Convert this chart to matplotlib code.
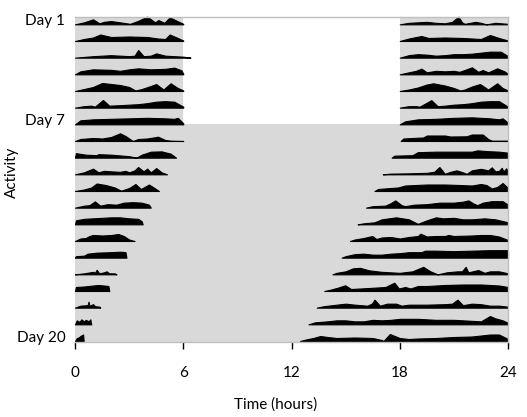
import numpy as np
import matplotlib.pyplot as plt

plt.rcParams['font.family'] = ['Lato', 'DejaVu Sans']

hour_ticks = [0, 6, 12, 18, 24]
label_days = [1, 7, 20]
day_labels = ['Day 1', 'Day 7', 'Day 20']

# activity traces: (hour, activity) pairs, one list per day
morning = [
    [(0, 0), (0.5, 2), (1.0, 5), (1.35, 1), (1.6, 2.5), (2.0, 3.3), (2.5, 2), (3.05, 0.5), (3.5, 3.5), (4.0, 7.7), (4.44, 2), (4.62, 4.3), (4.95, 1.5), (5.25, 7), (5.7, 3), (6.0, 0.5)],
    [(0, 0), (0.5, 2), (1.0, 3.5), (1.4, 6.5), (2.0, 4), (3.0, 4.5), (4.0, 4), (4.6, 2.5), (5.0, 2), (5.25, 6.5), (5.7, 3), (6.0, 0.5)],
    [(0, 0), (1, 1.5), (2, 2.5), (3, 1.5), (3.3, 2), (3.5, 7.7), (3.8, 1.5), (4.2, 2), (4.5, 4.3), (5, 2), (5.5, 1.5), (6, 1), (6.4, 0)],
    [(0, 0), (0.3, 3), (1, 5), (2, 4.5), (2.5, 3.5), (3, 5), (3.5, 6), (4.2, 5), (5, 5.5), (5.5, 6.7), (5.9, 4), (6, 0.5)],
    [(0, 0), (0.5, 2), (1, 4), (1.5, 8), (2, 7), (2.5, 6), (3, 4), (3.35, 0.5), (3.7, 2), (4.2, 5), (4.5, 7), (4.9, 1.5), (5.3, 7.7), (5.7, 3), (6, 0.5)],
    [(0, 0), (0.5, 1.5), (0.9, 2), (1.1, 1), (1.55, 7.7), (1.9, 2), (2.5, 2.5), (3, 3), (3.5, 3.5), (4, 4.5), (4.5, 6), (5, 6.5), (5.5, 6), (6, 1)],
    [(0, 0), (0.3, 4), (1, 5), (2, 5.5), (3, 6), (4, 6.5), (5, 6), (5.5, 5.5), (5.7, 6.5), (6, 1)],
    [(0, 0), (0.3, 2), (1, 3), (1.5, 2.5), (2, 4), (2.5, 7.7), (2.8, 5), (3.2, 0), (3.5, 2), (4, 2.5), (4.6, 4.3), (5, 1), (5.3, 0.3), (6, 0)],
    [(0, 0), (0.05, 4.5), (0.6, 3), (1.2, 2.5), (1.3, 3.5), (2.0, 3), (3.0, 1.5), (3.4, 0), (3.7, 3), (4.2, 6), (4.8, 6.3), (5.3, 4), (5.6, 0)],
    [(0, 0), (0.5, 2), (1, 5.7), (1.3, 2), (1.6, 3.5), (2, 3), (2.5, 2.5), (2.8, 3.5), (3, 2), (3.3, 4), (3.5, 7.3), (3.8, 3), (4.0, 5.7), (4.2, 2), (4.5, 6.3), (4.8, 2), (5.1, 0)],
    [(0, 0), (0.5, 1.5), (0.9, 3.5), (1.2, 7.5), (1.7, 6), (2.2, 3.5), (2.55, 0.3), (3.0, 3), (3.35, 7), (3.65, 2), (4.1, 6.5), (4.4, 3), (4.65, 0)],
    [(0, 0), (0.5, 2), (0.8, 2.5), (1.1, 6.3), (1.4, 2), (1.8, 3.5), (2.3, 3), (2.7, 5), (3.2, 5.5), (3.7, 5), (4.1, 3), (4.2, 0)],
    [(0, 0), (0.05, 4), (0.5, 5.5), (1, 6), (2, 7), (2.5, 7), (3, 6), (3.5, 5.5), (3.7, 3), (3.75, 0)],
    [(0, 0), (0.3, 2.5), (0.6, 3), (0.8, 5), (1, 6), (1.5, 5.5), (2, 6), (2.4, 7), (2.7, 5), (3, 1.5), (3.3, 0)],
    [(0, 0), (0.05, 1.5), (0.5, 2), (0.7, 4), (1.2, 5), (2, 5.5), (2.5, 6), (2.8, 5.5), (2.85, 0)],
    [(0, 0), (0.5, 1), (1, 2.5), (1.1, 1.5), (1.2, 4.5), (1.35, 1), (1.6, 2), (1.75, 3), (1.9, 1), (2.2, 1), (2.3, 0)],
    [(0, 0), (0.05, 4), (0.5, 4.5), (1, 5.5), (1.3, 6), (1.6, 5.5), (1.85, 5), (1.9, 0)],
    [(0, 0), (0.3, 2), (0.7, 2.5), (0.75, 6), (0.8, 2), (1.0, 3.5), (1.1, 1.5), (1.35, 1), (1.4, 0)],
    [(0, 0), (0.1, 4), (0.25, 2.5), (0.35, 5), (0.5, 3), (0.6, 4.5), (0.75, 3), (0.85, 5), (0.9, 0)],
    [(0, 0), (0.1, 3), (0.2, 3.5), (0.3, 5), (0.45, 6.5), (0.48, 0)],
]

evening = [
    [(18, 0), (18.5, 1.5), (19, 2), (19.5, 2.5), (20, 1.5), (20.5, 1), (20.9, 2.5), (21.25, 7.7), (21.45, 2), (21.6, 0.5), (22.2, 2.5), (22.5, 1.5), (22.8, 0), (23.3, 1.5), (24, 0.5)],
    [(18, 0), (18.5, 2.5), (19.2, 5), (19.6, 3), (20.5, 3.5), (21.5, 3), (22, 2.5), (22.5, 2), (23, 6), (23.5, 3), (24, 0.5)],
    [(18, 0), (18.5, 2.5), (19, 3.5), (19.5, 3), (20, 2), (20.5, 2.5), (21, 3.5), (21.5, 3.5), (22, 4), (22.5, 5), (23, 6), (23.6, 6), (24, 1.5)],
    [(18, 0), (18.5, 2), (18.9, 3.5), (19.2, 5.7), (19.5, 2), (20, 3.5), (20.5, 3), (21, 3.5), (21.3, 2.5), (21.7, 5), (22, 7), (22.35, 2.5), (22.6, 4.3), (22.9, 2), (23.4, 6), (23.8, 3), (24, 0.5)],
    [(18, 0), (18.5, 1.5), (19, 3.5), (19.5, 6.5), (19.85, 7.7), (20.5, 5.5), (21, 3), (21.35, 0.5), (21.6, 1.5), (22, 4.5), (22.45, 7), (22.9, 1.5), (23.4, 7.7), (23.7, 3), (24, 0.5)],
    [(18, 0), (18.5, 1.5), (18.9, 1.5), (19.1, 1), (19.75, 7.5), (20.1, 1.5), (20.5, 2), (21, 3), (21.5, 3.5), (22, 4.5), (22.5, 6), (23, 6.5), (23.5, 6.5), (24, 1)],
    [(18, 0), (18.3, 3), (19, 5), (20, 5.5), (21, 6.5), (22, 7), (23, 6), (23.5, 5), (23.7, 6), (24, 1.5)],
    [(18.05, 0), (18.2, 2.5), (19.0, 3.3), (19.3, 3.5), (19.5, 5.5), (20.5, 5.5), (20.8, 4.5), (21.7, 4.7), (22.0, 6.5), (22.6, 6.5), (22.9, 2), (23.1, 0.3), (24, 0.3)],
    [(17.55, 0), (17.7, 2), (18.7, 2.5), (19.0, 5.5), (20, 6), (21, 6), (22, 6), (22.3, 7.3), (22.9, 6.5), (23.5, 6), (24, 5)],
    [(17.06, 0), (17.5, 0.7), (18.5, 1), (19.5, 1.5), (19.9, 2.5), (20.2, 7.3), (20.5, 0.5), (20.8, 2.5), (21.15, 4), (21.5, 2), (21.7, 0.5), (22.0, 4), (22.5, 5.5), (22.9, 4), (23.1, 7), (23.3, 3), (23.5, 3.5), (23.65, 6.5), (23.75, 3), (23.9, 6), (24, 3)],
    [(16.6, 0), (16.8, 2), (17.5, 3), (17.9, 3.5), (18.3, 5.5), (19.5, 6.5), (20.5, 6.5), (21.3, 6), (22.0, 5.5), (22.5, 7), (22.8, 6), (23.1, 2.5), (23.4, 4), (23.7, 8), (24, 3)],
    [(16.13, 0), (16.5, 1.5), (17.2, 2), (17.5, 4.5), (17.75, 7.3), (18.1, 2.5), (18.3, 1.5), (18.8, 3), (19.5, 3.5), (20.2, 5), (21.0, 5), (21.5, 6), (21.8, 7.3), (22.1, 4), (22.3, 2.5), (22.6, 5), (23.1, 6.5), (23.7, 6.5), (24, 3)],
    [(15.67, 0), (16.0, 1), (16.6, 2), (17.0, 5), (17.8, 7), (18.5, 5), (19.0, 0.5), (19.5, 4), (20.0, 7), (20.4, 6), (21.0, 6.5), (21.5, 5), (22.0, 5), (22.7, 6), (23.3, 5), (24, 2)],
    [(15.24, 0), (15.5, 1.5), (16, 3), (16.48, 5), (16.7, 2), (17, 3.5), (17.5, 4), (18.0, 2.5), (18.5, 4), (19.0, 5), (19.15, 7.3), (19.5, 4.5), (20, 5), (20.5, 5), (20.7, 6), (21, 5), (22, 5.5), (22.5, 6), (23, 6), (23.5, 4.5), (24, 1)],
    [(14.78, 0), (15, 1.5), (15.5, 3.5), (16, 4), (16.5, 3), (17, 3), (17.5, 4), (18, 4.5), (18.5, 5.5), (19.2, 5.5), (19.4, 7), (20, 7), (21, 6.5), (22, 7), (23, 7.5), (24, 7.5)],
    [(14.27, 0), (14.5, 1.5), (15, 3), (15.4, 6), (15.8, 6.5), (16.3, 4), (17, 2.5), (17.5, 2), (18, 1.5), (18.7, 3), (19.3, 7.5), (19.7, 3), (20.1, 0), (20.6, 2), (21.2, 3), (21.45, 3), (21.65, 7.5), (21.8, 2), (22.35, 4.3), (22.7, 1.5), (23, 3), (23.5, 3), (24, 1)],
    [(13.82, 0), (14.2, 1.5), (14.6, 3.5), (14.97, 5.7), (15.3, 2), (15.8, 2.5), (16.3, 3), (17.2, 4), (17.7, 8.3), (17.95, 2.5), (18.3, 4), (18.6, 2.5), (19.0, 5), (19.5, 5), (20.5, 6), (21.5, 6.5), (22.5, 6.5), (23.5, 5.5), (24, 4)],
    [(13.4, 0), (13.8, 1.5), (14.5, 3), (15, 4), (15.5, 3), (16.2, 2), (16.45, 4), (16.6, 8), (16.9, 2), (17.3, 4), (17.8, 4), (18.1, 2), (18.5, 3), (19.5, 3), (20.5, 3.5), (20.9, 4), (21.2, 8), (21.5, 2.5), (22, 4), (22.5, 3.5), (23, 2), (23.5, 2), (24, 1)],
    [(12.94, 0), (13.3, 2), (14, 3), (14.5, 4), (15, 4), (15.5, 3), (16, 3), (16.5, 4.5), (17, 4), (17.5, 4.5), (18, 5.5), (18.5, 5.5), (19, 5.5), (19.5, 5), (20, 4.5), (21, 4.5), (21.5, 4), (22, 3.5), (22.5, 3), (23, 8.3), (23.3, 6), (23.7, 4), (24, 1.5)],
    [(12.47, 0), (12.8, 1.5), (13.2, 3), (13.6, 5), (14, 4), (14.5, 3), (15.5, 3.5), (16.5, 3), (17.0, 1), (17.1, 0), (17.45, 7), (18, 3), (18.5, 2), (19, 2.5), (20, 3), (21, 4), (22, 4.5), (22.5, 5.5), (23, 6.5), (23.5, 6.5), (24, 2)],
]

n_days = len(morning)
scale = 1 / 16.67  # activity units per row height
gray = '#D9D9D9'
top = n_days - 1 + 0.44
bottom = -0.06

fig = plt.figure(figsize=(5.27, 4.17), dpi=100)
ax = fig.add_axes([75 / 527, 1 - 342 / 417, 433 / 527, 325 / 417])

# dark phase shading: days 1-6 dark only at night, from day 7 on constant darkness
dd_start = n_days - 7
ax.fill_between([0, 24], bottom, dd_start, color=gray, linewidth=0)
ax.fill_between([0, 6], dd_start, top, color=gray, linewidth=0)
ax.fill_between([18, 24], dd_start, top, color=gray, linewidth=0)

for i in range(n_days):
    base = n_days - 1 - i
    for seg in (morning[i], evening[i]):
        hrs = np.array([p[0] for p in seg])
        act = np.array([p[1] for p in seg])
        ax.fill_between(hrs, base, base + act * scale, facecolor='black',
                        edgecolor='black', linewidth=0.8, clip_on=False)

ax.set_xlim(0, 24)
ax.set_ylim(bottom, top)
ax.set_xticks(hour_ticks)
ax.set_yticks([n_days - d + 0.26 for d in label_days])
ax.set_yticklabels(day_labels)
ax.tick_params(axis='x', length=5, width=1, color='black', direction='out',
               pad=12, labelsize=11)
ax.tick_params(axis='y', length=0, pad=7, labelsize=11)

for side in ['top', 'right', 'bottom']:
    ax.spines[side].set_color('#BFBFBF')
    ax.spines[side].set_linewidth(1)
ax.spines['left'].set_visible(False)

fig.text(276 / 527, 1 - 405 / 417, 'Time (hours)', ha='center', va='center', fontsize=11)
fig.text(12 / 527, 1 - 172 / 417, 'Activity', ha='center', va='center',
         rotation=90, fontsize=11)

fig.savefig('out.png', dpi=100)
